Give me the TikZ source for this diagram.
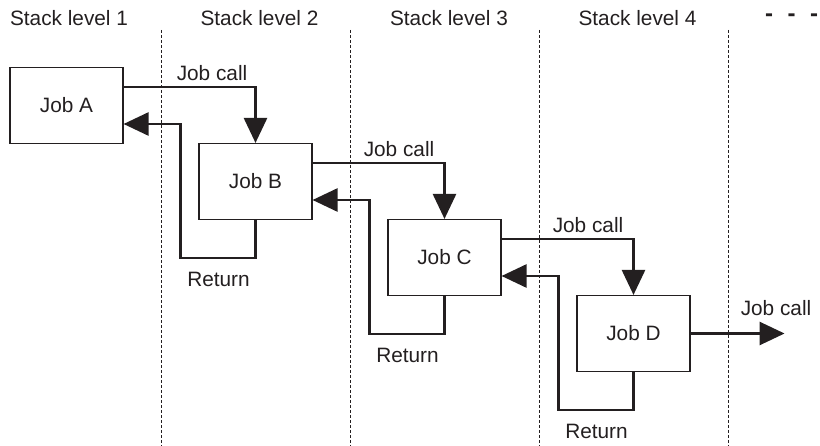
\documentclass[tikz,border=0pt]{standalone}
\usepackage{fontspec}
\setmainfont{Liberation Sans}
\usetikzlibrary{arrows.meta,calc}
\definecolor{ink}{HTML}{231F20}
\begin{document}
\begin{tikzpicture}[x=1pt,y=-1pt,
  every node/.style={font=\fontsize{20.8}{24}\selectfont, text=ink},
  job/.style={draw=ink, line width=1.1pt, minimum width=113pt, minimum height=76pt, inner sep=0pt},
  flow/.style={draw=ink, line width=2.6pt, -{Triangle[length=25pt,width=23pt]}},
  lane/.style={draw=ink, line width=0.9pt, dash pattern=on 3pt off 2pt},
  lbl/.style={anchor=base west, inner sep=0pt},
  head/.style={anchor=base, inner sep=0pt}]
\useasboundingbox (0,0) rectangle (820,446);

% lane separators
\foreach \x in {161.5,350.5,539.5,728.5}
  \draw[lane] (\x,30) -- (\x,446);

% headers
\node[head] (h1) at (69,25.5) {Stack level 1};
\node[head] (h2) at (259.5,25.5) {Stack level 2};
\node[head] (h3) at (449,25.5) {Stack level 3};
\node[head] (h4) at (637.5,25.5) {Stack level 4};
\node[lbl, font=\fontsize{24}{28}\bfseries] (more) at (765,21.5) {-\hspace{14.5pt}-\hspace{14.5pt}-};

% jobs
\node[job] (A) at (66.5,105.5) {Job A};
\node[job] (B) at (255.5,181.5) {Job B};
\node[job] (C) at (444.5,257.5) {Job C};
\node[job] (D) at (633.5,333.5) {Job D};

% calls
\draw[flow] ($(A.east)+(0,-18.5)$) -| (B.north);
\draw[flow] ($(B.east)+(0,-18.5)$) -| (C.north);
\draw[flow] ($(C.east)+(0,-18.5)$) -| (D.north);
\coordinate (out) at ($(D.east)+(94,0)$);
\draw[flow] (D.east) -- (out);

% returns
\draw[flow] (B.south) -- ++(0,38) -| ($(A.east)+(57,18.5)$) -- ($(A.east)+(0,18.5)$);
\draw[flow] (C.south) -- ++(0,38) -| ($(B.east)+(57,18.5)$) -- ($(B.east)+(0,18.5)$);
\draw[flow] (D.south) -- ++(0,38) -| ($(C.east)+(57,18.5)$) -- ($(C.east)+(0,18.5)$);

% labels
\node[lbl] (l1) at ($(A.east)+(53,-24.5)$) {Job call};
\node[lbl] (l2) at ($(B.east)+(51,-25)$) {Job call};
\node[lbl] (l3) at ($(C.east)+(51,-25)$) {Job call};
\node[lbl] (l4) at ($(D.east)+(50,-18)$) {Job call};
\node[lbl] (r1) at ($(A.east)+(63.5,181)$) {Return};
\node[lbl] (r2) at ($(B.east)+(63.5,181)$) {Return};
\node[lbl] (r3) at ($(C.east)+(63.5,181)$) {Return};
\end{tikzpicture}
\end{document}
